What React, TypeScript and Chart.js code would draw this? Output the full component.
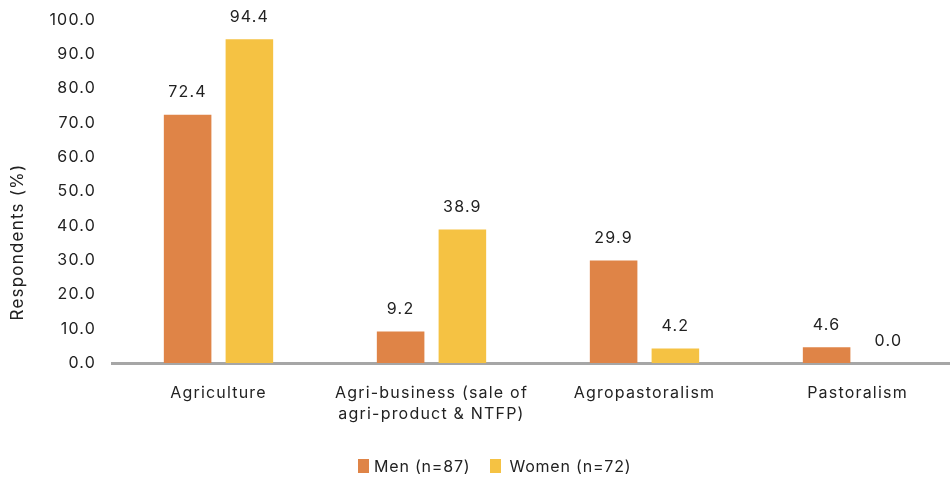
import React, { useEffect, useRef } from "react";
import { Chart, registerables } from "chart.js";

Chart.register(...registerables);

// Share of respondents by livelihood activity, split by gender
const categories: (string | string[])[] = [
  "Agriculture",
  ["Agri-business (sale of", "agri-product & NTFP)"],
  "Agropastoralism",
  "Pastoralism",
];
const menValues = [72.4, 9.2, 29.9, 4.6];
const womenValues = [94.4, 38.9, 4.2, 0.0];
const seriesLabels = ["Men (n=87)", "Women (n=72)"];
const yTicks = [0, 10, 20, 30, 40, 50, 60, 70, 80, 90, 100];
const yTitle = "Respondents (%)";

const MEN_COLOR = "#DF8447";
const WOMEN_COLOR = "#F5C243";
const TEXT_COLOR = "#222222";
const FONT_FAMILY = "Inter, 'Open Sans', sans-serif";
const LETTER_SPACING = "1.2px";

// Wider tracking for every piece of canvas text
const tracking = {
  id: "tracking",
  beforeLayout(chart: Chart) {
    (chart.ctx as any).letterSpacing = LETTER_SPACING;
  },
  beforeDraw(chart: Chart) {
    (chart.ctx as any).letterSpacing = LETTER_SPACING;
  },
};

// Writes each bar's value above it
const valueLabels = {
  id: "valueLabels",
  afterDatasetsDraw(chart: Chart) {
    const ctx = chart.ctx;
    ctx.save();
    ctx.font = `16px ${FONT_FAMILY}`;
    ctx.fillStyle = TEXT_COLOR;
    ctx.textAlign = "center";
    ctx.textBaseline = "middle";
    chart.data.datasets.forEach((ds, di) => {
      const meta = chart.getDatasetMeta(di);
      meta.data.forEach((el: any, i) => {
        const v = ds.data[i] as number;
        ctx.fillText(v.toFixed(1), el.x, el.y - 22);
      });
    });
    ctx.restore();
  },
};

// Vertical axis title, centred on the figure rather than the plot area
const axisTitle = {
  id: "axisTitle",
  afterDraw(chart: Chart) {
    const ctx = chart.ctx;
    ctx.save();
    ctx.font = `17px ${FONT_FAMILY}`;
    ctx.fillStyle = TEXT_COLOR;
    ctx.textAlign = "center";
    ctx.textBaseline = "middle";
    ctx.translate(18, 242);
    ctx.rotate(-Math.PI / 2);
    ctx.fillText(yTitle, 0, 0);
    ctx.restore();
  },
};

const legendText: React.CSSProperties = {
  fontFamily: FONT_FAMILY,
  fontSize: 16,
  letterSpacing: "0.8px",
  color: TEXT_COLOR,
  lineHeight: "16px",
  whiteSpace: "nowrap",
};

export default function App() {
  const canvasRef = useRef<HTMLCanvasElement | null>(null);

  useEffect(() => {
    if (!canvasRef.current) return;
    const chart = new Chart(canvasRef.current, {
      type: "bar",
      data: {
        labels: categories,
        datasets: [
          {
            label: seriesLabels[0],
            data: menValues,
            backgroundColor: MEN_COLOR,
            categoryPercentage: 0.58,
            barPercentage: 0.77,
          },
          {
            label: seriesLabels[1],
            data: womenValues,
            backgroundColor: WOMEN_COLOR,
            categoryPercentage: 0.58,
            barPercentage: 0.77,
          },
        ],
      },
      options: {
        animation: false,
        responsive: false,
        maintainAspectRatio: false,
        layout: { padding: { top: 0, right: 26, left: 0, bottom: 0 } },
        plugins: {
          tooltip: { enabled: false },
          legend: { display: false },
        },
        scales: {
          x: {
            grid: { display: false, drawTicks: false },
            border: { display: true, color: "#A6A6A6", width: 3 },
            ticks: {
              color: TEXT_COLOR,
              padding: 19,
              maxRotation: 0,
              font: { family: FONT_FAMILY, size: 16, lineHeight: 1.35 },
            },
            afterFit(scale: any) {
              scale.height = 116;
            },
          },
          y: {
            min: 0,
            max: 100,
            grid: { display: false, drawTicks: false },
            border: { display: false },
            afterBuildTicks(scale: any) {
              scale.ticks = yTicks.map((v) => ({ value: v }));
            },
            ticks: {
              color: TEXT_COLOR,
              padding: 16,
              font: { family: FONT_FAMILY, size: 16 },
              callback: (v: any) => Number(v).toFixed(1),
            },
            afterFit(scale: any) {
              scale.width = 112;
              scale.paddingTop = 20;
              scale.paddingBottom = 0;
            },
          },
        },
      },
      plugins: [tracking, valueLabels, axisTitle],
    });
    return () => chart.destroy();
  }, []);

  return (
    <div
      style={{
        position: "fixed",
        left: 0,
        top: 0,
        width: 950,
        height: 479,
        overflow: "hidden",
        background: "#ffffff",
      }}
    >
      <canvas ref={canvasRef} width={990} height={479} style={{ display: "block" }} />
      <div
        style={{
          position: "absolute",
          left: 358,
          top: 458,
          height: 16,
          display: "flex",
          alignItems: "center",
        }}
      >
        <span style={{ width: 11, height: 14, background: MEN_COLOR, marginRight: 5 }} />
        <span style={{ ...legendText, marginRight: 20 }}>{seriesLabels[0]}</span>
        <span style={{ width: 11, height: 14, background: WOMEN_COLOR, marginRight: 8 }} />
        <span style={legendText}>{seriesLabels[1]}</span>
      </div>
    </div>
  );
}
